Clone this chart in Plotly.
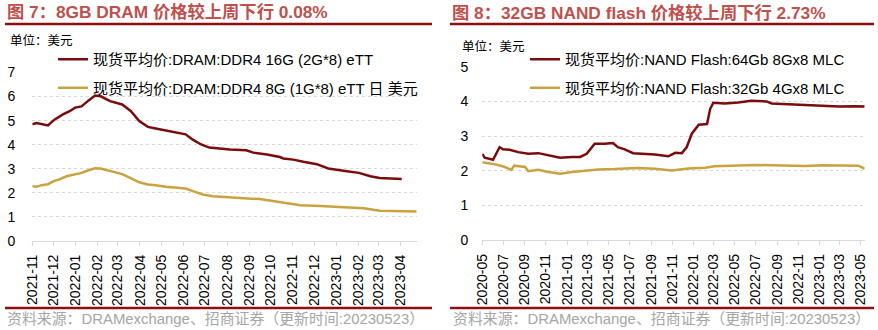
import plotly.graph_objects as go

W, H = 878, 330

# ---- 图7: DRAM 现货平均价 (美元) ----
ddr4_16g_dates = [
    "2021-11-01", "2021-11-07", "2021-11-23", "2021-12-02", "2021-12-14", "2021-12-24",
    "2021-12-31", "2022-01-09", "2022-01-19", "2022-01-28", "2022-02-05", "2022-02-18",
    "2022-03-07", "2022-03-19", "2022-03-31", "2022-04-12", "2022-04-23", "2022-05-07",
    "2022-05-21", "2022-06-04", "2022-06-14", "2022-06-25", "2022-07-07", "2022-07-21",
    "2022-08-05", "2022-08-28", "2022-09-07", "2022-09-26", "2022-10-14", "2022-10-19",
    "2022-11-02", "2022-11-16", "2022-12-05", "2022-12-21", "2023-01-02", "2023-01-16",
    "2023-02-02", "2023-02-18", "2023-03-03", "2023-03-17", "2023-04-03",
]
ddr4_16g = [
    4.85, 4.90, 4.80, 5.04, 5.26, 5.40,
    5.54, 5.59, 5.84, 6.04, 6.01, 5.81,
    5.67, 5.40, 4.98, 4.74, 4.67, 4.60,
    4.53, 4.43, 4.21, 4.02, 3.88, 3.84,
    3.80, 3.77, 3.67, 3.59, 3.49, 3.43,
    3.38, 3.29, 3.19, 3.01, 2.97, 2.90,
    2.83, 2.69, 2.62, 2.61, 2.58,
]

ddr4_8g_dates = [
    "2021-11-01", "2021-11-07", "2021-11-14", "2021-11-23", "2021-12-01", "2021-12-09",
    "2021-12-19", "2021-12-28", "2022-01-09", "2022-01-19", "2022-01-28", "2022-02-05",
    "2022-02-18", "2022-03-07", "2022-03-19", "2022-03-31", "2022-04-12", "2022-04-23",
    "2022-05-07", "2022-05-21", "2022-06-04", "2022-06-14", "2022-06-28", "2022-07-12",
    "2022-07-31", "2022-08-19", "2022-09-16", "2022-09-26", "2022-10-19", "2022-11-12",
    "2022-12-10", "2022-12-29", "2023-01-21", "2023-02-09", "2023-03-03", "2023-03-17",
    "2023-04-05", "2023-04-24",
]
ddr4_8g = [
    2.28, 2.25, 2.32, 2.36, 2.49, 2.56,
    2.69, 2.75, 2.83, 2.94, 3.02, 3.01,
    2.91, 2.78, 2.61, 2.44, 2.35, 2.32,
    2.25, 2.22, 2.18, 2.07, 1.93, 1.86,
    1.81, 1.79, 1.74, 1.70, 1.59, 1.49,
    1.45, 1.42, 1.40, 1.36, 1.26, 1.26,
    1.23, 1.23,
]

# ---- 图8: NAND Flash 现货平均价 (美元) ----
mlc_64gb_dates = [
    "2020-05-01", "2020-05-08", "2020-06-01", "2020-06-20", "2020-06-30", "2020-07-19",
    "2020-08-13", "2020-09-11", "2020-10-10", "2020-11-08", "2020-12-12", "2021-01-15",
    "2021-02-08", "2021-02-27", "2021-03-22", "2021-04-20", "2021-05-14", "2021-05-28",
    "2021-06-17", "2021-07-11", "2021-08-14", "2021-09-12", "2021-10-21", "2021-11-10",
    "2021-11-29", "2021-12-13", "2021-12-28", "2022-01-17", "2022-02-10", "2022-02-19",
    "2022-02-28", "2022-04-02", "2022-05-11", "2022-06-18", "2022-08-01", "2022-08-16",
    "2022-10-03", "2022-11-21", "2023-01-08", "2023-02-26", "2023-04-14", "2023-05-12",
]
mlc_64gb = [
    2.49, 2.38, 2.32, 2.68, 2.62, 2.61,
    2.54, 2.49, 2.51, 2.44, 2.38, 2.40,
    2.40, 2.49, 2.78, 2.78, 2.80, 2.68,
    2.62, 2.51, 2.49, 2.47, 2.42, 2.52,
    2.51, 2.68, 3.07, 3.33, 3.35, 3.78,
    3.96, 3.94, 3.97, 4.02, 4.00, 3.94,
    3.92, 3.90, 3.87, 3.85, 3.86, 3.85,
]

mlc_32gb_dates = [
    "2020-05-01", "2020-05-17", "2020-06-11", "2020-07-05", "2020-07-24", "2020-08-01",
    "2020-08-13", "2020-09-02", "2020-09-11", "2020-10-10", "2020-11-08", "2020-12-12",
    "2021-01-15", "2021-02-12", "2021-04-01", "2021-05-19", "2021-07-25", "2021-09-12",
    "2021-10-31", "2021-12-18", "2022-02-05", "2022-03-04", "2022-05-11", "2022-06-28",
    "2022-08-16", "2022-11-21", "2023-01-08", "2023-04-24", "2023-05-12",
]
mlc_32gb = [
    2.25, 2.22, 2.18, 2.11, 2.03, 2.15,
    2.14, 2.11, 1.99, 2.03, 1.97, 1.92,
    1.97, 1.99, 2.04, 2.05, 2.08, 2.06,
    2.01, 2.07, 2.09, 2.13, 2.15, 2.17,
    2.16, 2.14, 2.16, 2.15, 2.06,
]

MAROON = "#7A0C0C"
GOLD = "#C9A33F"
RULE = "#8E0F0F"
TITLE_C = "#C0504D"
GRID = "#D9D9D9"
FONT = "Liberation Sans, Arial, Noto Sans CJK SC, sans-serif"

fig = go.Figure()

fig.add_trace(go.Scatter(x=ddr4_16g_dates, y=ddr4_16g, mode="lines",
                         line=dict(color=MAROON, width=2.5),
                         name="现货平均价:DRAM:DDR4 16G (2G*8) eTT",
                         xaxis="x", yaxis="y", legend="legend", legendgroup="a"))
fig.add_trace(go.Scatter(x=ddr4_8g_dates, y=ddr4_8g, mode="lines",
                         line=dict(color=GOLD, width=2.5),
                         name="现货平均价:DRAM:DDR4 8G (1G*8) eTT 日 美元",
                         xaxis="x", yaxis="y", legend="legend", legendgroup="b"))
fig.add_trace(go.Scatter(x=mlc_64gb_dates, y=mlc_64gb, mode="lines",
                         line=dict(color=MAROON, width=2.5),
                         name="现货平均价:NAND Flash:64Gb 8Gx8 MLC",
                         xaxis="x2", yaxis="y2", legend="legend2", legendgroup="c"))
fig.add_trace(go.Scatter(x=mlc_32gb_dates, y=mlc_32gb, mode="lines",
                         line=dict(color=GOLD, width=2.5),
                         name="现货平均价:NAND Flash:32Gb 4Gx8 MLC",
                         xaxis="x2", yaxis="y2", legend="legend2", legendgroup="d"))

xcommon = dict(type="date", tickformat="%Y-%m", tickangle=-90, showgrid=False,
               showline=True, linecolor=GRID, linewidth=1, ticks="outside",
               tickcolor=GRID, ticklen=4, ticklabelstandoff=3, automargin=False,
               tickfont=dict(family=FONT, size=14, color="#000"))
ycommon = dict(showgrid=True, gridcolor=GRID, griddash="3px,3px", gridwidth=1,
               zeroline=False, showline=False, ticks="", dtick=1, automargin=False,
               tickfont=dict(family=FONT, size=14, color="#000"))

legend_common = dict(xanchor="left", yanchor="top", bgcolor="rgba(0,0,0,0)",
                     traceorder="grouped", tracegroupgap=6,
                     font=dict(family=FONT, size=15, color="#000"))

fig.update_layout(
    width=W, height=H,
    margin=dict(l=0, r=0, t=0, b=0),
    paper_bgcolor="white", plot_bgcolor="white",
    font=dict(family=FONT),
    xaxis=dict(**xcommon, domain=[32.3 / W, 416.7 / W],
               range=["2021-11-01", "2023-04-24"], dtick="M1", tick0="2021-11-01"),
    yaxis=dict(**ycommon, domain=[(H - 241) / H, (H - 72) / H], range=[0, 7.02],
               anchor="x", ticklabelstandoff=16),
    xaxis2=dict(**xcommon, domain=[482.3 / W, 864.7 / W], anchor="y2",
                range=["2020-05-01", "2023-05-12"], dtick="M2", tick0="2020-05-01"),
    yaxis2=dict(**ycommon, domain=[(H - 240.3) / H, (H - 66) / H], range=[0, 5.02],
                anchor="x2", ticklabelstandoff=13),
    legend=dict(**legend_common, x=53 / W, y=1 - 43 / H),
    legend2=dict(**legend_common, x=525 / W, y=1 - 43 / H),
    showlegend=True,
)

# titles, units, sources
ann = [
    dict(text="<b>图 7：8GB DRAM 价格较上周下行 0.08%</b>", x=5 / W, y=1 - 12 / H,
         font=dict(size=17.3, color=TITLE_C)),
    dict(text="<b>图 8：32GB NAND flash 价格较上周下行 2.73%</b>", x=450 / W, y=1 - 13 / H,
         font=dict(size=17.3, color=TITLE_C)),
    dict(text="单位：美元", x=8 / W, y=1 - 40 / H, font=dict(size=12.5, color="#000")),
    dict(text="单位：美元", x=460 / W, y=1 - 46.5 / H, font=dict(size=12.5, color="#000")),
    dict(text="资料来源：DRAMexchange、招商证券（更新时间:20230523）", x=5 / W, y=1 - 319 / H,
         font=dict(size=14.9, color="#A6A6A6")),
    dict(text="资料来源：DRAMexchange、招商证券（更新时间:20230523）", x=451 / W, y=1 - 319 / H,
         font=dict(size=14.9, color="#A6A6A6")),
]
for a in ann:
    fig.add_annotation(xref="paper", yref="paper", xanchor="left", yanchor="middle",
                       showarrow=False, **a)

# header and footer rules
for x0, x1 in [(5, 432), (450, 874)]:
    for yy in (24, 308):
        fig.add_shape(type="line", xref="paper", yref="paper",
                      x0=x0 / W, x1=x1 / W, y0=1 - yy / H, y1=1 - yy / H,
                      line=dict(color=RULE, width=2.5))

fig.write_html("out.html")
